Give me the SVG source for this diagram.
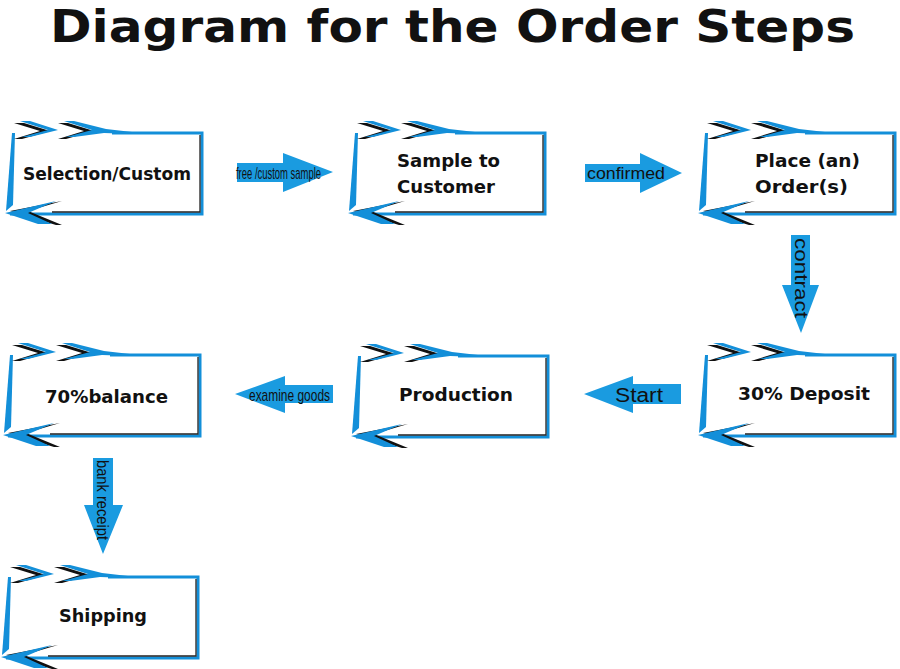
<svg xmlns="http://www.w3.org/2000/svg" xmlns:xlink="http://www.w3.org/1999/xlink" width="900" height="669" viewBox="0 0 900 669">
<style>
.title{font-family:"DejaVu Sans","Liberation Sans",sans-serif;font-weight:bold;font-size:45px;fill:#111}
.lbl{font-family:"DejaVu Sans","Liberation Sans",sans-serif;font-weight:bold;font-size:17px;fill:#111}
.al{font-family:"Liberation Sans",Arial,sans-serif;fill:#111}
.arrow{fill:#1a9be0}
.fb{fill:#138fd9}
.fs{fill:none;stroke:#138fd9;stroke-width:3}
.fk{fill:none;stroke:#222;stroke-width:1.3}
.ch{fill:#111}
</style>
<defs>
<g id="frame">
  <rect x="0" y="0" width="190" height="81" fill="#fff"/>
  <path class="fs" d="M100,0 H190 V81 H-2"/>
  <path class="fk" d="M40,79 H188 V2"/>
  <polygon class="fb" points="0,0 3,0 1,72 -6,78"/>
  <polygon class="ch" points="2,-10 12,-10 38,-2 10,6 2,6 28,-2"/>
  <polygon class="fb" points="8,-12 18,-12 46,-3 18,4 10,4 36,-3"/>
  <polygon class="ch" points="46,-10 56,-10 82,-2 54,6 46,6 72,-2"/>
  <polygon class="fb" points="52,-12 62,-12 94,-4 120,-1 120,1 92,0 62,4 54,4 80,-3"/>
  <polygon class="ch" points="-2,78 50,68 16,78 50,92 44,92"/>
  <polygon class="fb" points="-7,80 44,68 16,80 40,91 26,91"/>
</g>
</defs>
<rect width="900" height="669" fill="#fff"/>
<text class="title" x="50" y="42" textLength="805" lengthAdjust="spacingAndGlyphs">Diagram for the Order Steps</text>

<g id="connectors">
  <g id="c1">
    <polygon class="arrow" points="237,163 283,163 283,153 333,172 283,192 283,182 237,182"/>
    <text class="al" x="236" y="179" font-size="17" textLength="85" lengthAdjust="spacingAndGlyphs">free /custom sample</text>
  </g>
  <g id="c2">
    <polygon class="arrow" points="585,164 640,164 640,153 682,173 640,193 640,182 585,182"/>
    <text class="al" x="587" y="179" font-size="16" textLength="78" lengthAdjust="spacingAndGlyphs">confirmed</text>
  </g>
  <g id="c3">
    <polygon class="arrow" points="791,235 810,235 810,285 819,285 801,333 782,285 791,285"/>
    <text class="al" transform="translate(795,238) rotate(90)" x="0" y="0" font-size="19" textLength="80" lengthAdjust="spacingAndGlyphs">contract</text>
  </g>
  <g id="c4">
    <polygon class="arrow" points="681,384 633,384 633,376 584,394 633,413 633,404 681,404"/>
    <text class="al" x="615" y="402" font-size="20" textLength="48" lengthAdjust="spacingAndGlyphs">Start</text>
  </g>
  <g id="c5">
    <polygon class="arrow" points="333,385 285,385 285,376 235,394 285,413 285,403 333,403"/>
    <text class="al" x="249" y="401" font-size="17" textLength="81" lengthAdjust="spacingAndGlyphs">examine goods</text>
  </g>
  <g id="c6">
    <polygon class="arrow" points="93,458 113,458 113,505 123,505 103,554 84,505 93,505"/>
    <text class="al" transform="translate(97,460) rotate(90)" x="0" y="0" font-size="17" textLength="80" lengthAdjust="spacingAndGlyphs">bank receipt</text>
  </g>
</g>

<g id="n1"><use xlink:href="#frame" href="#frame" x="12" y="133"/>
  <text class="lbl" x="23" y="180" textLength="168" lengthAdjust="spacingAndGlyphs">Selection/Custom</text></g>
<g id="n2"><use xlink:href="#frame" href="#frame" x="355" y="133"/>
  <text class="lbl" x="397" y="167" textLength="103" lengthAdjust="spacingAndGlyphs">Sample to</text>
  <text class="lbl" x="397" y="193" textLength="98" lengthAdjust="spacingAndGlyphs">Customer</text></g>
<g id="n3"><use xlink:href="#frame" href="#frame" x="705" y="133"/>
  <text class="lbl" x="755" y="167" textLength="105" lengthAdjust="spacingAndGlyphs">Place (an)</text>
  <text class="lbl" x="755" y="193" textLength="93" lengthAdjust="spacingAndGlyphs">Order(s)</text></g>
<g id="n4"><use xlink:href="#frame" href="#frame" x="705" y="355"/>
  <text class="lbl" x="738" y="400" textLength="132" lengthAdjust="spacingAndGlyphs">30% Deposit</text></g>
<g id="n5"><use xlink:href="#frame" href="#frame" x="358" y="356"/>
  <text class="lbl" x="399" y="401" textLength="114" lengthAdjust="spacingAndGlyphs">Production</text></g>
<g id="n6"><use xlink:href="#frame" href="#frame" x="10" y="355"/>
  <text class="lbl" x="45" y="403" textLength="123" lengthAdjust="spacingAndGlyphs">70%balance</text></g>
<g id="n7"><use xlink:href="#frame" href="#frame" x="8" y="577"/>
  <text class="lbl" x="59" y="622" textLength="88" lengthAdjust="spacingAndGlyphs">Shipping</text></g>
</svg>
